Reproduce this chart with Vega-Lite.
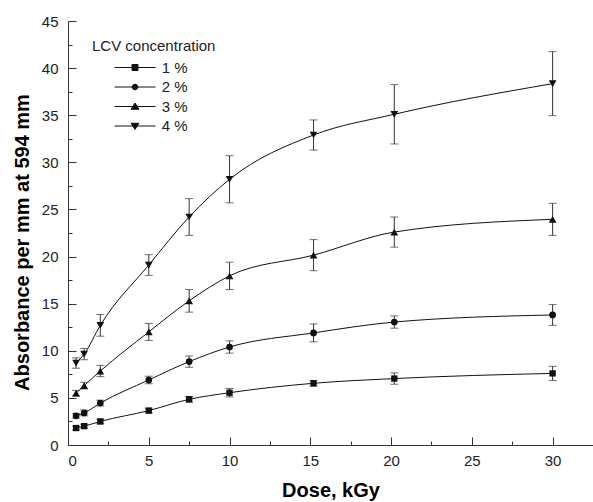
{
  "$schema": "https://vega.github.io/schema/vega-lite/v6.json",
  "width": 525,
  "height": 424,
  "autosize": "none",
  "padding": {"left": 68, "top": 21, "right": 0, "bottom": 57},
  "background": "white",
  "config": {
    "view": {"stroke": null},
    "font": "Liberation Sans",
    "axis": {"grid": false, "domainColor": "#333", "tickColor": "#333", "labelColor": "#222", "labelFontSize": 15, "titleFontSize": 20, "titleFontWeight": "bold", "titleColor": "#000", "labelFont": "Liberation Sans", "titleFont": "Liberation Sans"}
  },
  "data": {"values": [
    {"c": "1 %", "x": 0.5, "y": 1.8, "e": 0.2},
    {"c": "1 %", "x": 1, "y": 2.0, "e": 0.2},
    {"c": "1 %", "x": 2, "y": 2.5, "e": 0.25},
    {"c": "1 %", "x": 5, "y": 3.65, "e": 0.25},
    {"c": "1 %", "x": 7.5, "y": 4.85, "e": 0.3},
    {"c": "1 %", "x": 10, "y": 5.55, "e": 0.45},
    {"c": "1 %", "x": 15.2, "y": 6.55, "e": 0.3},
    {"c": "1 %", "x": 20.2, "y": 7.05, "e": 0.6},
    {"c": "1 %", "x": 30, "y": 7.6, "e": 0.75},
    {"c": "2 %", "x": 0.5, "y": 3.1, "e": 0.25},
    {"c": "2 %", "x": 1, "y": 3.4, "e": 0.3},
    {"c": "2 %", "x": 2, "y": 4.45, "e": 0.3},
    {"c": "2 %", "x": 5, "y": 6.9, "e": 0.4},
    {"c": "2 %", "x": 7.5, "y": 8.85, "e": 0.6},
    {"c": "2 %", "x": 10, "y": 10.4, "e": 0.65},
    {"c": "2 %", "x": 15.2, "y": 11.9, "e": 0.95},
    {"c": "2 %", "x": 20.2, "y": 13.05, "e": 0.65},
    {"c": "2 %", "x": 30, "y": 13.8, "e": 1.1},
    {"c": "3 %", "x": 0.5, "y": 5.5, "e": 0.3},
    {"c": "3 %", "x": 1, "y": 6.3, "e": 0.35},
    {"c": "3 %", "x": 2, "y": 7.85, "e": 0.6},
    {"c": "3 %", "x": 5, "y": 12.0, "e": 0.9},
    {"c": "3 %", "x": 7.5, "y": 15.3, "e": 1.2},
    {"c": "3 %", "x": 10, "y": 17.95, "e": 1.45},
    {"c": "3 %", "x": 15.2, "y": 20.15, "e": 1.65},
    {"c": "3 %", "x": 20.2, "y": 22.6, "e": 1.6},
    {"c": "3 %", "x": 30, "y": 23.95, "e": 1.7},
    {"c": "4 %", "x": 0.5, "y": 8.7, "e": 0.55},
    {"c": "4 %", "x": 1, "y": 9.65, "e": 0.6},
    {"c": "4 %", "x": 2, "y": 12.7, "e": 1.15},
    {"c": "4 %", "x": 5, "y": 19.1, "e": 1.1},
    {"c": "4 %", "x": 7.5, "y": 24.2, "e": 1.95},
    {"c": "4 %", "x": 10, "y": 28.2, "e": 2.5},
    {"c": "4 %", "x": 15.2, "y": 32.9, "e": 1.6},
    {"c": "4 %", "x": 20.2, "y": 35.1, "e": 3.15},
    {"c": "4 %", "x": 30, "y": 38.35, "e": 3.4}
  ]},
  "resolve": {"axis": {"x": "independent", "y": "independent"}},
  "layer": [
    {"mark": {"type": "line", "interpolate": "monotone", "strokeWidth": 1},
     "encoding": {
       "x": {"field": "x", "type": "quantitative", "scale": {"domain": [0, 32.5], "nice": false},
         "axis": {"title": "Dose, kGy", "orient": "bottom", "values": [0, 5, 10, 15, 20, 25, 30], "tickSize": -8, "labelPadding": 16, "titlePadding": 12}},
       "y": {"field": "y", "type": "quantitative", "scale": {"domain": [0, 45], "nice": false},
         "axis": {"title": "Absorbance per mm at 594 mm", "orient": "left", "values": [0, 5, 10, 15, 20, 25, 30, 35, 40, 45], "tickSize": -8, "labelPadding": 18, "titleX": -36, "titleY": 221}},
       "color": {"field": "c", "type": "nominal",
         "scale": {"domain": ["1 %", "2 %", "3 %", "4 %"], "range": ["#111111", "#111111", "#111111", "#111111"]},
         "legend": {"title": "LCV concentration", "orient": "none", "legendX": 24, "legendY": 17.5,
           "padding": 0, "symbolSize": 100, "symbolOffset": 35.5, "labelOffset": 19.2, "symbolStrokeWidth": 1,
           "titleFontSize": 15, "titleFontWeight": "normal", "titleColor": "#222", "titleFont": "Liberation Sans",
           "labelFontSize": 15, "labelColor": "#222", "labelFont": "Liberation Sans",
           "rowPadding": 3.5, "titlePadding": 6.5,
           "encode": {"symbols": {"update": {
             "shape": {"signal": "datum.value === '1 %' ? 'M-4.1,0L4.1,0M-0.6,-0.6L0.6,-0.6L0.6,0.6L-0.6,0.6Z' : datum.value === '2 %' ? 'M-4.1,0L4.1,0M-0.56,0A0.56,0.56,0,1,0,0.56,0A0.56,0.56,0,1,0,-0.56,0Z' : datum.value === '3 %' ? 'M-4.1,0L4.1,0M0,-0.7L0.78,0.55L-0.78,0.55Z' : 'M-4.1,0L4.1,0M0,0.7L0.78,-0.55L-0.78,-0.55Z'"},
             "fill": {"value": "#111"}, "stroke": {"value": "#111"}, "strokeWidth": {"value": 1}}}}}}}},
    {"mark": {"type": "errorbar", "ticks": {"size": 8, "thickness": 1, "color": "#333"}, "color": "#333", "thickness": 1},
     "encoding": {
       "x": {"field": "x", "type": "quantitative",
         "axis": {"title": null, "orient": "bottom", "values": [2.5, 7.5, 12.5, 17.5, 22.5, 27.5, 32.5], "tickSize": -4, "labels": false, "domain": false}},
       "y": {"field": "y", "type": "quantitative",
         "axis": {"title": null, "orient": "left", "values": [2.5, 7.5, 12.5, 17.5, 22.5, 27.5, 32.5, 37.5, 42.5], "tickSize": -4, "labels": false, "domain": false}},
       "yError": {"field": "e"}}},
    {"transform": [{"filter": "datum.c === '1 %'"}],
     "mark": {"type": "point", "shape": "square", "filled": true, "color": "#111", "opacity": 1, "size": 40},
     "encoding": {"x": {"field": "x", "type": "quantitative", "axis": null}, "y": {"field": "y", "type": "quantitative", "axis": null}}},
    {"transform": [{"filter": "datum.c === '2 %'"}],
     "mark": {"type": "point", "shape": "circle", "filled": true, "color": "#111", "opacity": 1, "size": 45},
     "encoding": {"x": {"field": "x", "type": "quantitative", "axis": null}, "y": {"field": "y", "type": "quantitative", "axis": null}}},
    {"transform": [{"filter": "datum.c === '3 %'"}],
     "mark": {"type": "point", "shape": "triangle-up", "filled": true, "color": "#111", "opacity": 1, "size": 60},
     "encoding": {"x": {"field": "x", "type": "quantitative", "axis": null}, "y": {"field": "y", "type": "quantitative", "axis": null}}},
    {"transform": [{"filter": "datum.c === '4 %'"}],
     "mark": {"type": "point", "shape": "triangle-down", "filled": true, "color": "#111", "opacity": 1, "size": 60},
     "encoding": {"x": {"field": "x", "type": "quantitative", "axis": null}, "y": {"field": "y", "type": "quantitative", "axis": null}}}
  ]
}
